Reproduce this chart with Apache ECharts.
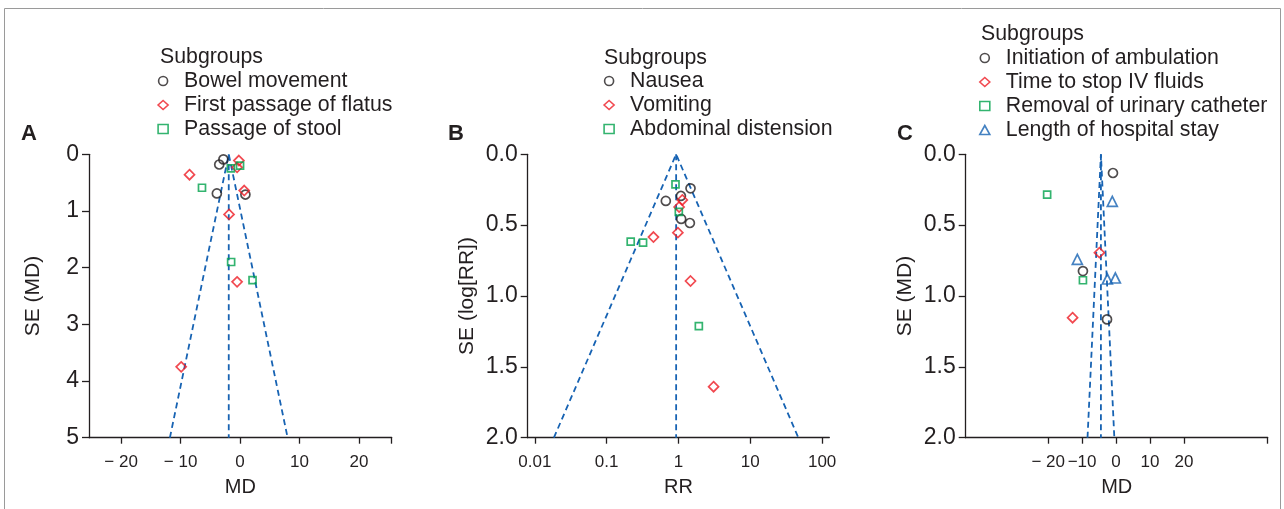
<!DOCTYPE html>
<html>
<head>
<meta charset="utf-8">
<title>Funnel plots</title>
<script src="https://cdn.jsdelivr.net/npm/echarts@6/dist/echarts.min.js"></script>
<style>
  html, body { margin: 0; padding: 0; background: #fff; }
  #chart { width: 1284px; height: 509px; }
</style>
</head>
<body>
<div id="chart"></div>
<script>
// ---- A: bowel function, MD vs SE(MD) ----
const bowelMD = [-2.8, -3.5, -3.9, 0.9];
const bowelSE = [0.09, 0.18, 0.69, 0.71];
const flatusMD = [-0.2, -0.5, -8.5, 0.7, -1.85, -0.5, -9.9];
const flatusSE = [0.11, 0.23, 0.36, 0.64, 1.06, 2.25, 3.75];
const stoolMD = [0.0, -1.55, -6.4, -1.5, 2.1];
const stoolSE = [0.2, 0.25, 0.59, 1.9, 2.22];
const funnelA_MD = [-11.8, -1.9, 8.0];
const funnelA_SE = [5, 0, 5];
const centerA_MD = [-1.9, -1.9];
const centerA_SE = [0, 5];

// ---- B: nausea etc., RR vs SE(log RR) ----
const nauseaRR = [1.47, 1.08, 0.666, 1.09, 1.44];
const nauseaSE = [0.24, 0.294, 0.329, 0.456, 0.485];
const vomitRR = [1.13, 1.02, 0.98, 0.448, 1.47, 3.08];
const vomitSE = [0.322, 0.372, 0.553, 0.584, 0.894, 1.64];
const distRR = [0.908, 1.01, 0.216, 0.321, 1.92];
const distSE = [0.212, 0.407, 0.616, 0.624, 1.212];
const funnelB_RR = [0.0184, 0.927, 46.7];
const funnelB_SE = [2, 0, 2];
const centerB_RR = [0.927, 0.927];
const centerB_SE = [0, 2];

// ---- C: recovery, MD vs SE(MD) ----
const ambulMD = [-0.9, -9.75, -2.65];
const ambulSE = [0.132, 0.824, 1.165];
const ivMD = [-4.9, -12.8];
const ivSE = [0.694, 1.153];
const catheterMD = [-20.3, -9.75];
const catheterSE = [0.285, 0.889];
const stayMD = [-1.1, -11.4, -2.55, -0.2];
const staySE = [0.332, 0.741, 0.88, 0.873];
const funnelC_MD = [-8.4, -4.45, -0.5];
const funnelC_SE = [2, 0, 2];
const centerC_MD = [-4.45, -4.45];
const centerC_SE = [0, 2];

const ticksMD = [-20, -10, 0, 10, 20];

const FONT = '"Liberation Sans", Arial, Helvetica, sans-serif';
const INK = '#231f20';
const RED = '#ed1c24';
const GREEN = '#00a14b';
const BLUE = '#1763b3';

const pts = (xs, ys) => xs.map((x, i) => [x, ys[i]]);

// panel boxes (px)
const TOP = 154.3, H = 283.4;
const grids = [
  { left: 89, top: TOP, width: 302.7, height: H },
  { left: 527.7, top: TOP, width: 301.6, height: H },
  { left: 965.7, top: TOP, width: 302, height: H }
];

const axisLine = { onZero: false, lineStyle: { color: INK, width: 1.3 } };
const axisTick = (extra) => Object.assign({ length: 6, lineStyle: { color: INK, width: 1.3 } }, extra || {});

function mdLabel(v, tight) {
  if (v < 0) return '\u2212' + (tight && v > -20 ? '' : ' ') + Math.abs(v);
  return String(v);
}

function xAxisMD(i, min, max, tight) {
  return {
    type: 'value', gridIndex: i, position: 'bottom', min: min, max: max,
    name: 'MD', nameLocation: 'middle', nameGap: 40,
    nameTextStyle: { fontFamily: FONT, fontSize: 20, color: INK },
    axisLine: axisLine,
    axisTick: axisTick({ customValues: ticksMD.concat([max]) }),
    axisLabel: {
      customValues: ticksMD, margin: 16, hideOverlap: false,
      fontFamily: FONT, fontSize: 17, color: INK,
      formatter: (v) => mdLabel(v, tight)
    },
    splitLine: { show: false }
  };
}

function yAxisSE(i, max, interval, name, gap, digits) {
  return {
    type: 'value', gridIndex: i, position: 'left', inverse: true, min: 0, max: max, interval: interval,
    name: name, nameLocation: 'middle', nameGap: gap,
    nameTextStyle: { fontFamily: FONT, fontSize: 21, color: INK },
    axisLine: axisLine,
    axisTick: axisTick({ length: 7 }),
    axisLabel: {
      margin: 10, fontFamily: FONT, fontSize: 23, color: INK,
      formatter: (v) => v.toFixed(digits)
    },
    splitLine: { show: false }
  };
}

const SYM = {
  circle: { symbol: 'circle', symbolSize: 9 },
  diamond: { symbol: 'diamond', symbolSize: 10 },
  square: { symbol: 'rect', symbolSize: 7 },
  triangle: { symbol: 'triangle', symbolSize: 10 }
};

function scatter(name, i, data, shape, color) {
  return Object.assign({
    type: 'scatter', name: name, xAxisIndex: i, yAxisIndex: i, data: data,
    symbolKeepAspect: true,
    itemStyle: { color: 'rgba(0,0,0,0)', borderColor: color, borderWidth: 1.7 },
    emphasis: { disabled: true }, silent: true, z: 3
  }, SYM[shape]);
}

function dashed(i, data) {
  return {
    type: 'line', xAxisIndex: i, yAxisIndex: i, data: data, symbol: 'none',
    lineStyle: { color: BLUE, width: 1.8, type: [6, 4] },
    emphasis: { disabled: true }, silent: true, z: 2
  };
}

// icon box 10 px wide; text pushed right so it starts ~21 px after the icon centre
function legend(left, top, names) {
  return {
    orient: 'vertical', left: left, top: top, data: names,
    itemWidth: 10, itemHeight: 9, itemGap: 0, padding: 0,
    selectedMode: false, symbolKeepAspect: true,
    itemStyle: { borderWidth: 1.6 },
    textStyle: { fontFamily: FONT, fontSize: 21.3, color: INK, lineHeight: 24, padding: [0, 0, 0, 11] }
  };
}

function txt(x, y, s, size, bold) {
  return {
    type: 'text', x: x, y: y, silent: true,
    style: {
      text: s, fontFamily: FONT, fontSize: size, fontWeight: bold ? 'bold' : 'normal',
      fill: INK, textVerticalAlign: 'middle'
    }
  };
}

const chart = echarts.init(document.getElementById('chart'), null, { renderer: 'canvas' });

chart.setOption({
  animation: false,
  backgroundColor: '#fff',
  grid: grids.map((g) => Object.assign({ outerBoundsMode: 'none', containLabel: false }, g)),
  xAxis: [
    xAxisMD(0, -25.4, 25.5, false),
    {
      type: 'log', logBase: 10, gridIndex: 1, position: 'bottom',
      min: Math.pow(10, -2.1), max: Math.pow(10, 2.1),
      name: 'RR', nameLocation: 'middle', nameGap: 40,
      nameTextStyle: { fontFamily: FONT, fontSize: 20, color: INK },
      axisLine: axisLine,
      axisTick: axisTick(),
      axisLabel: {
        margin: 16, showMinLabel: false, showMaxLabel: false,
        fontFamily: FONT, fontSize: 17, color: INK,
        formatter: (v) => String(+Number(v).toPrecision(3))
      },
      splitLine: { show: false }, minorTick: { show: false }
    },
    xAxisMD(2, -44.3, 44.7, true)
  ],
  yAxis: [
    yAxisSE(0, 5, 1, 'SE (MD)', 45, 0),
    yAxisSE(1, 2, 0.5, 'SE (log[RR])', 50, 1),
    yAxisSE(2, 2, 0.5, 'SE (MD)', 50, 1)
  ],
  legend: [
    legend(157.3, 69, ['Bowel movement', 'First passage of flatus', 'Passage of stool']),
    legend(603.3, 69, ['Nausea', 'Vomiting', 'Abdominal distension']),
    legend(979, 46, ['Initiation of ambulation', 'Time to stop IV fluids', 'Removal of urinary catheter', 'Length of hospital stay'])
  ],
  graphic: [
    {
      type: 'rect', silent: true,
      shape: { x: 4.5, y: 8.5, width: 1276, height: 520 },
      style: { fill: 'none', stroke: '#9a9a9a', lineWidth: 1 }
    },
    txt(160, 57.5, 'Subgroups', 21.3),
    txt(604, 58, 'Subgroups', 21.3),
    txt(981, 34.5, 'Subgroups', 21.3),
    txt(21, 133.5, 'A', 22, true),
    txt(448, 133.5, 'B', 22, true),
    txt(897, 133.5, 'C', 22, true)
  ],
  series: [
    dashed(0, pts(funnelA_MD, funnelA_SE)),
    dashed(0, pts(centerA_MD, centerA_SE)),
    scatter('Bowel movement', 0, pts(bowelMD, bowelSE), 'circle', INK),
    scatter('First passage of flatus', 0, pts(flatusMD, flatusSE), 'diamond', RED),
    scatter('Passage of stool', 0, pts(stoolMD, stoolSE), 'square', GREEN),

    dashed(1, pts(funnelB_RR, funnelB_SE)),
    dashed(1, pts(centerB_RR, centerB_SE)),
    scatter('Nausea', 1, pts(nauseaRR, nauseaSE), 'circle', INK),
    scatter('Vomiting', 1, pts(vomitRR, vomitSE), 'diamond', RED),
    scatter('Abdominal distension', 1, pts(distRR, distSE), 'square', GREEN),

    dashed(2, pts(funnelC_MD, funnelC_SE)),
    dashed(2, pts(centerC_MD, centerC_SE)),
    scatter('Initiation of ambulation', 2, pts(ambulMD, ambulSE), 'circle', INK),
    scatter('Time to stop IV fluids', 2, pts(ivMD, ivSE), 'diamond', RED),
    scatter('Removal of urinary catheter', 2, pts(catheterMD, catheterSE), 'square', GREEN),
    scatter('Length of hospital stay', 2, pts(stayMD, staySE), 'triangle', BLUE)
  ]
});
</script>
</body>
</html>
